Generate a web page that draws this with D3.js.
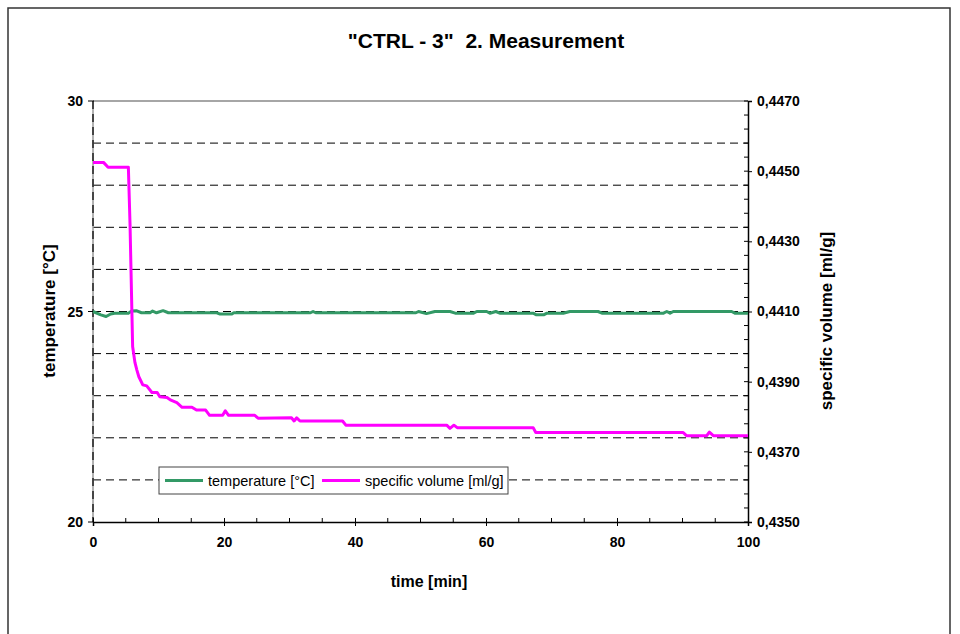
<!DOCTYPE html>
<html>
<head>
<meta charset="utf-8">
<script src="https://cdn.jsdelivr.net/npm/d3@7"></script>
<style>
  body { margin: 0; background: #fff; }
  svg text { font-family: "Liberation Sans", Arial, sans-serif; }
</style>
</head>
<body>
<svg id="chart" width="960" height="634"></svg>
<script>
// time [min] / temperature [°C]
const tempTime = [0, 1.2, 2.0, 2.7, 3.3, 5.4, 5.9, 6.6, 7.4, 8.7, 9.1, 9.7, 10.7, 11.5, 18.9, 19.4, 21.2, 21.5,
  33.2, 33.6, 34.0, 49.3, 49.7, 50.9, 52.2, 54.5, 55.3, 58.1, 58.6, 60.1, 60.6, 61.5, 62.1, 67.2, 67.7, 68.8,
  69.3, 71.8, 72.8, 77.1, 77.7, 87.1, 87.6, 88.1, 88.6, 97.5, 98.0, 100];
const tempValues = [25.0, 24.92, 24.88, 24.94, 24.96, 24.96, 25.01, 25.02, 24.97, 24.97, 25.01, 24.97, 25.02, 24.97, 24.97, 24.94, 24.94, 24.97,
  24.97, 25.0, 24.97, 24.97, 25.0, 24.95, 25.0, 25.0, 24.96, 24.96, 25.0, 25.0, 24.96, 25.0, 24.96, 24.96, 24.92, 24.92,
  24.96, 24.96, 25.0, 25.0, 24.96, 24.96, 25.0, 24.96, 25.0, 25.0, 24.96, 24.96];

// time [min] / specific volume [ml/g]
const volTime = [0, 1.6, 2.3, 5.4, 5.65, 6.05, 6.4, 6.7, 7.0, 7.6, 8.2, 9.0, 9.8, 10.2, 11.3, 11.8, 12.8, 13.6, 15.1,
  15.8, 17.2, 17.8, 19.8, 20.2, 20.7, 24.7, 25.2, 30.3, 30.7, 31.1, 31.6, 38.1, 38.6, 54.0, 54.5, 55.1, 55.6,
  67.2, 67.6, 90.1, 90.6, 93.7, 94.1, 94.7, 100];
const volValues = [0.44525, 0.44525, 0.44511, 0.44511, 0.44351, 0.44000, 0.43955, 0.43933, 0.43914, 0.43891, 0.43888,
  0.43869, 0.43869, 0.43857, 0.43855, 0.43848, 0.43840, 0.43827, 0.43827, 0.43819, 0.43819, 0.43804, 0.43804,
  0.43817, 0.43804, 0.43804, 0.43796, 0.43797, 0.43788, 0.43797, 0.43788, 0.43788, 0.43776, 0.43776, 0.43767,
  0.43776, 0.43769, 0.43769, 0.43755, 0.43755, 0.43746, 0.43746, 0.43756, 0.43746, 0.43746];

const xTicks = [0, 20, 40, 60, 80, 100];
const leftTicks = [20, 25, 30];
const rightTicks = [0.4350, 0.4370, 0.4390, 0.4410, 0.4430, 0.4450, 0.4470];
const gridValues = [21, 22, 23, 24, 25, 26, 27, 28, 29];

const svg = d3.select('#chart');

// outer frame
svg.append('rect')
  .attr('x', 8).attr('y', 8).attr('width', 942).attr('height', 640)
  .attr('fill', 'none').attr('stroke', '#333').attr('stroke-width', 1.5);

const x = d3.scaleLinear().domain([0, 100]).range([93, 748]);
const yL = d3.scaleLinear().domain([20, 30]).range([522, 101]);
const yR = d3.scaleLinear().domain([0.4350, 0.4470]).range([522, 101]);

// title
svg.append('text')
  .attr('x', 486).attr('y', 48)
  .attr('text-anchor', 'middle')
  .style('white-space', 'pre')
  .attr('font-size', '21px').attr('font-weight', 'bold')
  .text('"CTRL - 3"  2. Measurement');

// dashed grid lines
svg.append('g').selectAll('line')
  .data(gridValues)
  .join('line')
  .attr('x1', x(0)).attr('x2', x(100))
  .attr('y1', d => yL(d)).attr('y2', d => yL(d))
  .attr('stroke', '#000').attr('stroke-width', 1)
  .attr('stroke-dasharray', '8,5');

// top border of plot
svg.append('line')
  .attr('x1', x(0)).attr('x2', x(100)).attr('y1', yL(30)).attr('y2', yL(30))
  .attr('stroke', '#888').attr('stroke-width', 1.5);

// left axis (gray with dashes)
svg.append('line')
  .attr('x1', x(0)).attr('x2', x(0)).attr('y1', yL(30)).attr('y2', yL(20))
  .attr('stroke', '#999').attr('stroke-width', 1.5);
svg.append('line')
  .attr('x1', x(0)).attr('x2', x(0)).attr('y1', yL(30)).attr('y2', yL(20))
  .attr('stroke', '#222').attr('stroke-width', 1.5)
  .attr('stroke-dasharray', '8,5');

// left ticks + labels
const leftAxis = svg.append('g');
leftAxis.selectAll('line')
  .data(leftTicks)
  .join('line')
  .attr('x1', x(0) - 5).attr('x2', x(0) + 1)
  .attr('y1', d => yL(d)).attr('y2', d => yL(d))
  .attr('stroke', '#000');
leftAxis.selectAll('text')
  .data(leftTicks)
  .join('text')
  .attr('x', 83).attr('y', d => yL(d) + 5)
  .attr('text-anchor', 'end')
  .attr('font-size', '14px').attr('font-weight', 'bold')
  .text(d => d);

// right axis
const rightAxis = svg.append('g').attr('transform', `translate(${x(100)},0)`)
  .call(d3.axisRight(yR).tickValues(rightTicks).tickSize(4)
    .tickFormat(d => d3.format('.4f')(d).replace('.', ',')));
rightAxis.select('.domain').attr('stroke', '#000').attr('stroke-width', 1.5);
rightAxis.selectAll('text')
  .attr('font-size', '14px').attr('font-weight', 'bold')
  .attr('font-family', '"Liberation Sans", Arial, sans-serif')
  .attr('x', 9).attr('fill', '#000');
// minor ticks right
svg.append('g').selectAll('line')
  .data(d3.range(0, 31).map(i => 0.4350 + i * 0.0004))
  .join('line')
  .attr('x1', x(100) - 4).attr('x2', x(100))
  .attr('y1', d => yR(d)).attr('y2', d => yR(d))
  .attr('stroke', '#000');

// bottom axis
const bottomAxis = svg.append('g').attr('transform', `translate(0,${yL(20)})`)
  .call(d3.axisBottom(x).tickValues(xTicks).tickSize(4).tickFormat(d => d));
bottomAxis.select('.domain').attr('stroke', '#000').attr('stroke-width', 1.5);
bottomAxis.selectAll('.tick line').attr('y1', -4);
bottomAxis.selectAll('text')
  .attr('font-size', '14px').attr('font-weight', 'bold')
  .attr('font-family', '"Liberation Sans", Arial, sans-serif')
  .attr('y', 15).attr('fill', '#000');
svg.append('g').selectAll('line')
  .data(d3.range(5, 100, 5).filter(d => d % 20 !== 0))
  .join('line')
  .attr('x1', d => x(d)).attr('x2', d => x(d))
  .attr('y1', yL(20) - 4).attr('y2', yL(20))
  .attr('stroke', '#000');

// axis titles
svg.append('text')
  .attr('x', 429).attr('y', 587)
  .attr('text-anchor', 'middle')
  .attr('font-size', '16px').attr('font-weight', 'bold')
  .text('time [min]');
svg.append('text')
  .attr('transform', 'translate(55,311) rotate(-90)')
  .attr('text-anchor', 'middle')
  .attr('font-size', '17px').attr('font-weight', 'bold')
  .text('temperature [°C]');
svg.append('text')
  .attr('transform', 'translate(832,321) rotate(-90)')
  .attr('text-anchor', 'middle')
  .attr('font-size', '17px').attr('font-weight', 'bold')
  .text('specific volume [ml/g]');

// series
const tempData = tempTime.map((t, i) => ({ t: t, v: tempValues[i] }));
const volData = volTime.map((t, i) => ({ t: t, v: volValues[i] }));

svg.append('path')
  .datum(tempData)
  .attr('fill', 'none').attr('stroke', '#339966').attr('stroke-width', 3)
  .attr('stroke-linejoin', 'round')
  .attr('d', d3.line().x(d => x(d.t)).y(d => yL(d.v)));

svg.append('path')
  .datum(volData)
  .attr('fill', 'none').attr('stroke', '#ff00ff').attr('stroke-width', 3)
  .attr('stroke-linejoin', 'round')
  .attr('d', d3.line().x(d => x(d.t)).y(d => yR(d.v)));

// legend
const legend = svg.append('g');
legend.append('rect')
  .attr('x', 159).attr('y', 467).attr('width', 349).attr('height', 27)
  .attr('fill', '#fff').attr('stroke', '#444').attr('stroke-width', 1);
const legendItems = [
  { label: 'temperature [°C]', color: '#339966', x: 165 },
  { label: 'specific volume [ml/g]', color: '#ff00ff', x: 322 }
];
legendItems.forEach(item => {
  legend.append('line')
    .attr('x1', item.x).attr('x2', item.x + 38)
    .attr('y1', 480.5).attr('y2', 480.5)
    .attr('stroke', item.color).attr('stroke-width', 3);
  legend.append('text')
    .attr('x', item.x + 43).attr('y', 485.5)
    .attr('font-size', '14.5px')
    .text(item.label);
});
</script>
</body>
</html>
